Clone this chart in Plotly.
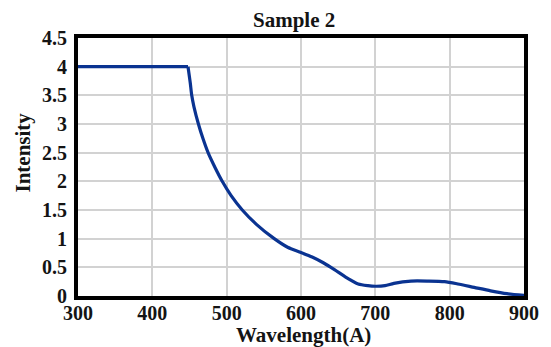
import plotly.graph_objects as go

wavelength = [300, 448, 451, 453, 456, 462, 468, 475, 484, 494, 506, 521, 540, 564,
              582, 600, 615, 630, 645, 660, 677, 690, 700, 713, 725, 748, 771, 793,
              811, 833, 855, 877, 900]
intensity = [4.0, 4.0, 3.72, 3.5, 3.3, 3.0, 2.75, 2.5, 2.25, 2.0, 1.75, 1.5, 1.25, 1.0,
             0.85, 0.76, 0.68, 0.58, 0.46, 0.33, 0.21, 0.18, 0.17, 0.18, 0.22, 0.26, 0.26, 0.25,
             0.21, 0.15, 0.09, 0.04, 0.01]

x_ticks = [300, 400, 500, 600, 700, 800, 900]
y_ticks = [0, 0.5, 1, 1.5, 2, 2.5, 3, 3.5, 4, 4.5]
y_tick_labels = ["0", "0.5", "1", "1.5", "2", "2.5", "3", "3.5", "4", "4.5"]

title_text = "Sample 2"
x_title = "Wavelength(A)"
y_title = "Intensity"

FONT = "Liberation Serif"
TXT = "#141414"
LINE = "#0a3391"

# the flat plateau ends at a sharp corner; the decay after it is smooth
corner = 1

fig = go.Figure()
fig.add_trace(go.Scatter(x=wavelength[:corner + 1], y=intensity[:corner + 1], mode="lines",
                         line=dict(color=LINE, width=3.2),
                         showlegend=False, hoverinfo="skip"))
fig.add_trace(go.Scatter(x=wavelength[corner:], y=intensity[corner:], mode="lines",
                         line=dict(color=LINE, width=3.2, shape="spline", smoothing=0.7),
                         showlegend=False, hoverinfo="skip"))

fig.update_layout(
    width=551, height=347,
    margin=dict(l=78, r=24, t=38, b=51, pad=0),
    paper_bgcolor="white", plot_bgcolor="white",
    font=dict(family=FONT, color=TXT),
    showlegend=False,
)
fig.update_xaxes(range=[300, 900], tickvals=x_ticks, ticktext=[str(v) for v in x_ticks],
                 showgrid=True, gridcolor="#d2d2d2", gridwidth=2,
                 showline=True, linecolor="black", linewidth=4, mirror=True,
                 ticks="", ticklabelstandoff=-4,
                 tickfont=dict(family=FONT, size=20, color=TXT, weight="bold"),
                 zeroline=False)
fig.update_yaxes(range=[0, 4.5], tickvals=y_ticks, ticktext=y_tick_labels,
                 showgrid=True, gridcolor="#d2d2d2", gridwidth=2,
                 showline=True, linecolor="black", linewidth=4, mirror=True,
                 ticks="outside", ticklen=3, tickcolor="rgba(0,0,0,0)",
                 tickfont=dict(family=FONT, size=20, color=TXT, weight="bold"),
                 zeroline=False)

fig.add_annotation(text="<b>%s</b>" % title_text, xref="paper", yref="paper",
                   x=0.485, y=1.071, xanchor="center", yanchor="middle", showarrow=False,
                   font=dict(family=FONT, size=21, color=TXT))
fig.add_annotation(text="<b>%s</b>" % x_title, xref="paper", yref="paper",
                   x=0.505, y=-0.151, xanchor="center", yanchor="middle", showarrow=False,
                   font=dict(family=FONT, size=21, color=TXT))
fig.add_annotation(text="<b>%s</b>" % y_title, xref="paper", yref="paper",
                   x=-0.124, y=0.555, xanchor="center", yanchor="middle", showarrow=False,
                   textangle=-90, font=dict(family=FONT, size=21, color=TXT))

fig.write_html("out.html")
